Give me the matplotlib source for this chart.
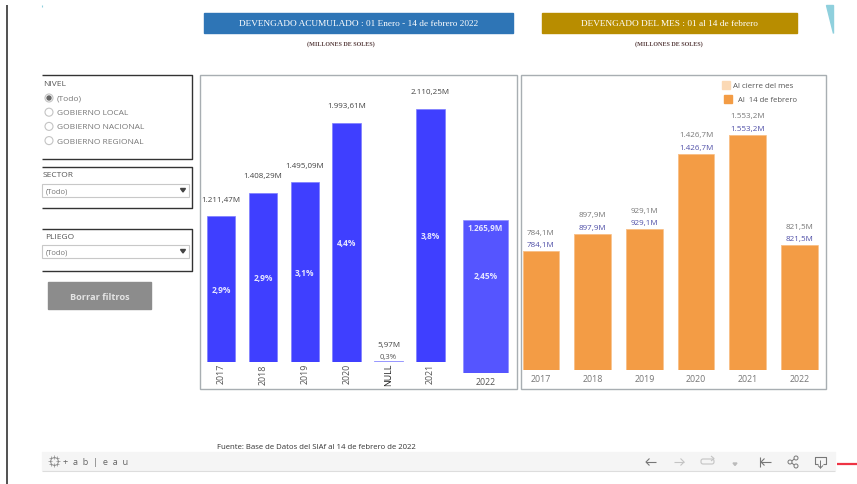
import matplotlib
matplotlib.use('Agg')
import matplotlib.pyplot as plt
from matplotlib.patches import Rectangle, Circle, Polygon, FancyBboxPatch

plt.rcParams['font.family'] = ['Open Sans', 'DejaVu Sans']

# datos
anios_acum = ['2017', '2018', '2019', '2020', 'NULL', '2021']
valores_acum = [1211.47, 1408.29, 1495.09, 1993.61, 5.97, 2110.25]
etiquetas_acum = ['1.211,47M', '1.408,29M', '1.495,09M', '1.993,61M', '5,97M', '2.110,25M']
porcentajes_acum = ['2,9%', '2,9%', '3,1%', '4,4%', '0,3%', '3,8%']

anio_actual = ['2022']
valor_actual = [1265.9]
etiqueta_actual = '1.265,9M'
porcentaje_actual = '2,45%'

anios_mes = ['2017', '2018', '2019', '2020', '2021', '2022']
cierre_mes = [784.1, 897.9, 929.1, 1426.7, 1553.2, 821.5]
al_14_feb = [784.1, 897.9, 929.1, 1426.7, 1553.2, 821.5]
etiquetas_mes = ['784,1M', '897,9M', '929,1M', '1.426,7M', '1.553,2M', '821,5M']

W, H = 857, 485
AZUL = '#3F3FFF'
AZUL2 = '#5555FF'
NARANJA = '#F39C45'
CLARO = '#FBD9B5'


def eixo_px(x0, y0, x1, y1):
    # cria um axes a partir de pixels da imagem (origem em cima)
    ax = fig.add_axes([x0 / W, 1 - y1 / H, (x1 - x0) / W, (y1 - y0) / H])
    ax.patch.set_alpha(0)
    for s in ax.spines.values():
        s.set_visible(False)
    ax.set_yticks([])
    ax.tick_params(length=0)
    return ax


fig = plt.figure(figsize=(W / 100, H / 100), dpi=100)

# fundo em coordenadas de pixel
bg = fig.add_axes([0, 0, 1, 1])
bg.set_xlim(0, W)
bg.set_ylim(H, 0)
bg.axis('off')


def caixa(x0, y0, x1, y1, **kw):
    bg.add_patch(Rectangle((x0, y0), x1 - x0, y1 - y0, **kw))


def linha(xs, ys, cor='#333333', lw=1.0):
    bg.plot(xs, ys, color=cor, lw=lw, solid_capstyle='butt')


def seta(x0, y0, x1, y1, cor, lw=0.8):
    # linha com ponta aberta, horizontal ou vertical
    linha([x0, x1], [y0, y1], cor, lw)
    if y0 == y1:
        d = 3.5 if x1 > x0 else -3.5
        linha([x1 - d, x1, x1 - d], [y1 - 3.5, y1, y1 + 3.5], cor, lw)
    else:
        linha([x1 - 2.5, x1, x1 + 2.5], [y1 - 2.5, y1, y1 - 2.5], cor, lw)


linha([7.5, 7.5], [6, 485], '#333333', 1.2)
linha([837, 857], [465, 465], '#EE3344', 1.6)
bg.add_patch(Polygon([[826, 6], [833, 6], [833, 34]], color='#8FD0DD'))
linha([42, 42], [6, 8], '#8FD0DD', 0.8)

# titulos
caixa(204, 14, 513, 33.5, color='#2E75B6')
caixa(542, 14, 797, 33.5, color='#B88D00')
bg.text(358.5, 24.5, 'DEVENGADO ACUMULADO : 01 Enero - 14 de febrero 2022', color='white',
        family='Liberation Serif', fontsize=6.7, ha='center', va='center')
bg.text(669.5, 24.5, 'DEVENGADO DEL MES : 01 al 14 de febrero', color='white',
        family='Liberation Serif', fontsize=6.65, ha='center', va='center')
bg.text(341, 44, '(MILLONES DE SOLES)', color='#5A4040', family='Liberation Serif',
        fontsize=4.4, fontweight='bold', ha='center', va='center')
bg.text(669, 44, '(MILLONES DE SOLES)', color='#5A4040', family='Liberation Serif',
        fontsize=4.4, fontweight='bold', ha='center', va='center')

# paineis dos graficos
caixa(200.5, 75.5, 517.5, 389.5, fill=False, ec='#A8AEB2', lw=1)
caixa(521, 75.5, 826, 389.5, fill=False, ec='#A8AEB2', lw=1)

# filtros
for y0, y1 in [(75.5, 159.5), (168, 209), (230, 272)]:
    linha([42, 192.5, 192.5, 42], [y0, y0, y1, y1], '#333333', 1)

bg.text(43, 84, 'NIVEL', fontsize=6, color='#555555', va='center')
bg.text(43, 176, 'SECTOR', fontsize=6, color='#555555', va='center')
bg.text(45, 237.5, 'PLIEGO', fontsize=6, color='#555555', va='center')

opciones = ['(Todo)', 'GOBIERNO LOCAL', 'GOBIERNO NACIONAL', 'GOBIERNO REGIONAL']
for i, txt in enumerate(opciones):
    y = 99 + i * 14.2
    bg.add_patch(Circle((49, y), 4, fc='white', ec='#C4C4C4', lw=0.8))
    if i == 0:
        bg.add_patch(Circle((49, y), 2, color='#666666'))
    bg.text(57, y + 0.5, txt, fontsize=6, color='#777777', va='center')

for y0 in [184.5, 245.5]:
    caixa(42.5, y0, 189.5, y0 + 13.5, fc='white', ec='#C8C8C8', lw=0.8)
    bg.text(46, y0 + 7.5, '(Todo)', fontsize=5.5, color='#777777', va='center')
    bg.add_patch(Polygon([[180.5, y0 + 5], [185.5, y0 + 5], [183, y0 + 8.5]], color='#444444'))

caixa(48, 283, 151, 310, color='#8C8C8C')
bg.text(99.5, 298, 'Borrar filtros', fontsize=6.6, fontweight='bold', color='#E4E4E4',
        ha='center', va='center')

# rodape
bg.text(217, 447.5, 'Fuente: Base de Datos del SIAf al 14 de febrero de 2022', fontsize=5.55,
        color='#333333', va='center')
caixa(42, 453, 835, 471, color='#F5F5F5')
linha([42, 835], [471.5, 471.5], '#DDDDDD', 0.8)
bg.text(63, 462.5, '+  a  b  |  e  a  u', fontsize=6.6, color='#666666', va='center')
for dx, dy in [(0, -4), (0, 4), (-4, 0), (4, 0), (-3, -3), (3, -3), (-3, 3), (3, 3)]:
    bg.plot(54 + dx, 462 + dy, marker='+', ms=2.5, mew=0.5, color='#888888')

# icones da barra
cinza = '#777777'
seta(656, 463, 646, 463, cinza)
seta(674, 463, 684, 463, '#C4C4C4')
bg.add_patch(FancyBboxPatch((701, 460), 13, 5, boxstyle='round,pad=0,rounding_size=2',
                            fc='none', ec='#C4C4C4', lw=0.8))
linha([711, 714, 711], [457, 459.5, 462], '#C4C4C4', 0.8)
bg.add_patch(Polygon([[733, 464], [737, 464], [735, 466.5]], color='#BBBBBB'))
linha([760, 760], [458, 468], cinza, 0.8)
seta(771, 463, 761, 463, cinza)
for cx, cy in [(790, 463), (796, 459), (796, 467)]:
    bg.add_patch(Circle((cx, cy), 2, fc='none', ec=cinza, lw=0.7))
linha([792, 794], [462, 460], cinza, 0.7)
linha([792, 794], [464, 466], cinza, 0.7)
linha([818, 815, 815, 826, 826, 823], [465, 465, 458, 458, 465, 465], cinza, 0.8)
seta(820.5, 461, 820.5, 469, cinza, 0.7)

# leyenda
caixa(722, 82, 730, 90, color=CLARO)
caixa(724, 95.5, 732, 103.5, color=NARANJA)
bg.text(733, 86.5, 'Al cierre del mes', fontsize=5.65, color='#555555', va='center')
bg.text(738, 100, 'Al  14 de febrero', fontsize=5.5, color='#555555', va='center')

PX = 0.72  # pixels para pontos a 100 dpi

# acumulado
ax1 = eixo_px(200, 76.2, 451.4, 362.7)
x1 = list(range(len(anios_acum)))
cores = [AZUL] * len(anios_acum)
cores[4] = '#B9B9FF'
barras1 = ax1.bar(x1, valores_acum, width=0.68, color=cores, edgecolor='#7D7DFF', linewidth=0.5)
ax1.set_xlim(-0.5, 5.5)
ax1.set_ylim(0, 286.5 / 0.1199)
ax1.set_xticks(x1)
ax1.set_xticklabels(anios_acum, rotation=90, fontsize=6.4, color='#555555')
ax1.get_xticklabels()[4].set_color('#222222')
ax1.tick_params(axis='x', pad=1)

for i, (v, et, pc) in enumerate(zip(valores_acum, etiquetas_acum, porcentajes_acum)):
    if anios_acum[i] == 'NULL':
        ax1.annotate(et, (i, v), xytext=(0, 16 * PX), textcoords='offset points', ha='center',
                     va='center', fontsize=5.8, color='#444444')
        ax1.annotate(pc, (i, v), xytext=(0, 4.5 * PX), textcoords='offset points', ha='center',
                     va='center', fontsize=5.6, color='#555555')
    else:
        ax1.annotate(et, (i, v), xytext=(0, 17 * PX), textcoords='offset points', ha='center',
                     va='center', fontsize=5.8, color='#444444')
        ax1.text(i, v / 2, pc, ha='center', va='center', fontsize=6, fontweight='bold', color='#E6E6FF')

# ano atual, em eixo separado
ax2 = eixo_px(457, 76.2, 514, 374.3)
ax2.bar([0], valor_actual, width=0.78, color=AZUL2, edgecolor='#8D8DFF', linewidth=0.5)
ax2.set_xlim(-0.5, 0.5)
ax2.set_ylim(0, 298.1 / 0.1213)
ax2.set_xticks([0])
ax2.set_xticklabels(anio_actual, fontsize=6.4, color='#555555')
ax2.tick_params(axis='x', pad=3)
ax2.annotate(etiqueta_actual, (0, valor_actual[0]), xytext=(0, -8 * PX), textcoords='offset points',
             ha='center', va='center', fontsize=5.8, fontweight='bold', color='#E6E6FF')
ax2.text(0, valor_actual[0] * 0.635, porcentaje_actual, ha='center', va='center', fontsize=6,
         fontweight='bold', color='#E6E6FF')

# devengado do mes
ax3 = eixo_px(515.2, 76.2, 825.2, 370.7)
x3 = list(range(len(anios_mes)))
ax3.bar(x3, cierre_mes, width=0.705, color=CLARO)
ax3.bar(x3, al_14_feb, width=0.705, color=NARANJA, edgecolor='#F9C48F', linewidth=0.5)
ax3.set_xlim(-0.5, 5.5)
ax3.set_ylim(0, 294.5 / 0.1512)
ax3.set_xticks(x3)
ax3.set_xticklabels(anios_mes, fontsize=6.4, color='#777777')
ax3.tick_params(axis='x', pad=3)

for i, et in enumerate(etiquetas_mes):
    ax3.annotate(et, (i, cierre_mes[i]), xytext=(0, 19 * PX), textcoords='offset points', ha='center',
                 va='center', fontsize=5.8, color='#777777')
    ax3.annotate(et, (i, al_14_feb[i]), xytext=(0, 6.5 * PX), textcoords='offset points', ha='center',
                 va='center', fontsize=5.8, color='#5050A8')

fig.savefig('out.png', dpi=100)
